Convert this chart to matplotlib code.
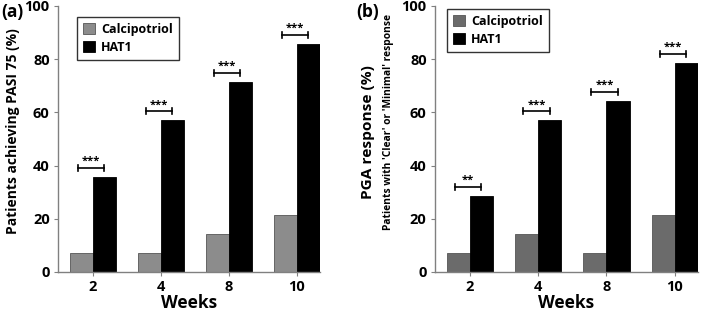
import matplotlib

matplotlib.use("Agg")
import matplotlib.pyplot as plt
import numpy as np

plt.rcParams["font.family"] = ["Open Sans", "DejaVu Sans"]
plt.rcParams["font.weight"] = "bold"

weeks = ["2", "4", "8", "10"]
pasi_calci = [7.1, 7.1, 14.3, 21.4]
pasi_hat1 = [35.7, 57.1, 71.4, 85.7]
pasi_sig = ["***", "***", "***", "***"]
pga_calci = [7.1, 14.3, 7.1, 21.4]
pga_hat1 = [28.6, 57.1, 64.3, 78.6]
pga_sig = ["**", "***", "***", "***"]

AXIS = "#808080"
W = 0.34


def panel(ax, calci, hat1, sig, calci_color, leg_anchor):
    x = np.arange(len(weeks))
    ax.bar(x - W / 2, calci, W, color=calci_color, edgecolor="#555555",
           linewidth=0.6, label="Calcipotriol")
    ax.bar(x + W / 2, hat1, W, color="black", edgecolor="black",
           linewidth=0.6, label="HAT1")
    for xi, h, s in zip(x, hat1, sig):
        y = h + 3.4
        x0, x1 = xi - W * 0.65, xi + W / 2
        ax.plot([x0, x1], [y, y], color="black", lw=1.2)
        ax.plot([x0, x0], [y - 1.2, y + 1.2], color="black", lw=1.2)
        ax.plot([x1, x1], [y - 1.2, y + 1.2], color="black", lw=1.2)
        ax.text((x0 + x1) / 2, y + 0.3, s, ha="center", va="bottom",
                fontsize=8, fontweight="bold")
    ax.set_xlim(-0.51, 3.34)
    ax.set_ylim(0, 100)
    ax.set_xticks(x)
    ax.set_xticklabels(weeks)
    ax.set_yticks([0, 20, 40, 60, 80, 100])
    for side in ("top", "right"):
        ax.spines[side].set_visible(False)
    for side in ("left", "bottom"):
        ax.spines[side].set_color(AXIS)
        ax.spines[side].set_linewidth(1.0)
    ax.tick_params(length=3, width=0.8, color=AXIS, labelsize=10.5, pad=3)
    for lab in ax.get_xticklabels() + ax.get_yticklabels():
        lab.set_fontweight("bold")
    ax.set_xlabel("Weeks", fontsize=12.5, fontweight="bold", labelpad=0)
    leg = ax.legend(loc="upper left", bbox_to_anchor=leg_anchor,
                    fontsize=9, frameon=True, fancybox=False,
                    handlelength=0.9, handleheight=0.9, handletextpad=0.5,
                    borderpad=0.5, labelspacing=0.4, borderaxespad=0)
    leg.get_frame().set_edgecolor("black")
    leg.get_frame().set_linewidth(1.0)
    for t in leg.get_texts():
        t.set_fontweight("bold")


def fit_length(fig, t, target_px):
    # scale a rotated label so its drawn length matches the reference
    bb = t.get_window_extent(fig.canvas.get_renderer())
    t.set_fontsize(t.get_fontsize() * target_px / bb.height)


fig = plt.figure(figsize=(7.09, 3.13), dpi=100)
ax1 = fig.add_axes([0.0818, 0.131, 0.3695, 0.85])
ax2 = fig.add_axes([0.6135, 0.131, 0.371, 0.85])

panel(ax1, pasi_calci, pasi_hat1, pasi_sig, "#8c8c8c", (0.073, 0.96))
panel(ax2, pga_calci, pga_hat1, pga_sig, "#6b6b6b", (0.046, 0.99))

lab_a = fig.text(13 / 709, 1 - 131 / 313, "Patients achieving PASI 75 (%)",
                 rotation=90, fontsize=10, fontweight="bold",
                 ha="center", va="center")
lab_b1 = fig.text(368 / 709, 1 - 132 / 313, "PGA response (%)", rotation=90,
                  fontsize=12, fontweight="bold", ha="center", va="center")
lab_b2 = fig.text(388 / 709, 1 - 122 / 313,
                  "Patients with 'Clear' or 'Minimal' response",
                  rotation=90, fontsize=8, fontweight="bold",
                  ha="center", va="center")
fit_length(fig, lab_a, 205)
fit_length(fig, lab_b1, 133)
fit_length(fig, lab_b2, 217)

fig.text(0.002, 0.99, "(a)", fontsize=12.5, fontweight="bold", va="top")
fig.text(356 / 709, 0.99, "(b)", fontsize=12.5, fontweight="bold", va="top")

fig.savefig("out.png", dpi=100, facecolor="white")
